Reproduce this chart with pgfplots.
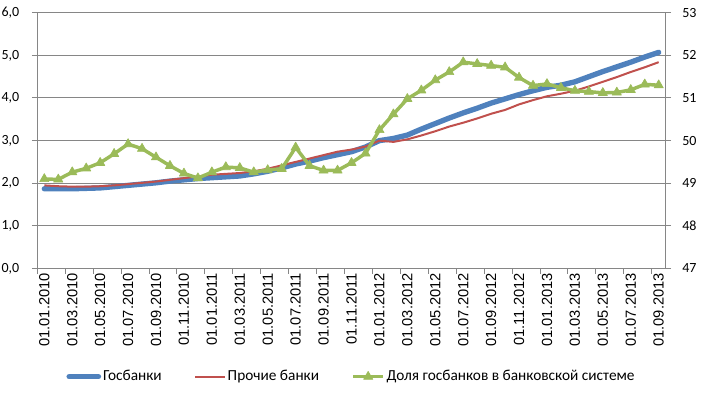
\documentclass[border=0pt]{standalone}
\usepackage{pgfplots}
\pgfplotsset{compat=1.18}
\usepackage{pgfplotstable}
\usepackage{fontspec}
\setmainfont{Carlito}
\newfontfamily\arialfont{Liberation Sans}
\definecolor{xlblue}{HTML}{4F81BD}
\definecolor{xlred}{HTML}{C0504D}
\definecolor{xlgreen}{HTML}{9BBB59}
\definecolor{xlgrid}{HTML}{868686}

\pgfplotstableread{
m gos proch
0 1.87 1.95
1 1.87 1.93
2 1.87 1.92
3 1.88 1.92
4 1.89 1.93
5 1.92 1.95
6 1.95 1.98
7 1.98 2.01
8 2.01 2.04
9 2.05 2.08
10 2.08 2.12
11 2.11 2.16
12 2.13 2.20
13 2.15 2.22
14 2.17 2.24
15 2.22 2.28
16 2.28 2.34
17 2.36 2.42
18 2.45 2.50
19 2.52 2.58
20 2.60 2.66
21 2.67 2.74
22 2.74 2.79
23 2.85 2.86
24 3.00 3.00
25 3.05 2.97
26 3.13 3.03
27 3.27 3.12
28 3.40 3.22
29 3.53 3.33
30 3.65 3.42
31 3.76 3.52
32 3.88 3.63
33 3.98 3.72
34 4.08 3.85
35 4.17 3.95
36 4.25 4.04
37 4.30 4.10
38 4.38 4.17
39 4.50 4.27
40 4.62 4.38
41 4.73 4.49
42 4.84 4.61
43 4.96 4.72
44 5.07 4.84
}\banks

\pgfplotstableread{
m dolya
0 49.10
1 49.09
2 49.26
3 49.35
4 49.48
5 49.69
6 49.92
7 49.81
8 49.61
9 49.41
10 49.23
11 49.12
12 49.26
13 49.38
14 49.36
15 49.26
16 49.31
17 49.34
18 49.84
19 49.41
20 49.30
21 49.30
22 49.48
23 49.70
24 50.25
25 50.62
26 50.98
27 51.18
28 51.42
29 51.61
30 51.84
31 51.80
32 51.76
33 51.72
34 51.48
35 51.29
36 51.33
37 51.24
38 51.17
39 51.15
40 51.12
41 51.13
42 51.19
43 51.32
44 51.30
}\share

\begin{document}
\begin{tikzpicture}
\useasboundingbox (-28pt,-94.9pt) rectangle (502.3pt,201.4pt);
\begin{axis}[
  width=471.3pt, height=191.85pt, scale only axis,
  at={(0,0)}, anchor=south west,
  xmin=-0.5, xmax=44.5, ymin=0, ymax=6,
  ytick={0,1,...,6},
  xtick={-0.5,1.5,...,43.5}, xticklabels={},
  extra x ticks={0,2,...,44},
  extra x tick labels={01.01.2010,01.03.2010,01.05.2010,01.07.2010,01.09.2010,01.11.2010,01.01.2011,01.03.2011,01.05.2011,01.07.2011,01.09.2011,01.11.2011,01.01.2012,01.03.2012,01.05.2012,01.07.2012,01.09.2012,01.11.2012,01.01.2013,01.03.2013,01.05.2013,01.07.2013,01.09.2013},
  extra x tick style={major tick length=0pt},
  xtick pos=left, ytick pos=left, tick align=outside, major tick length=4pt,
  ymajorgrids, grid style={xlgrid, line width=0.75pt},
  axis line style={xlgrid, line width=0.75pt},
  tick style={xlgrid, line width=0.75pt},
  yticklabel style={font=\fontsize{10.5}{12}\selectfont, xshift=-6pt, text=black},
  xticklabel style={rotate=90, anchor=east, font=\arialfont\fontsize{11}{13}\selectfont, text=black},
  /pgf/number format/.cd, use comma, fixed, fixed zerofill, precision=1, assume math mode=true
]
\addplot[xlblue, line width=4pt, line cap=round, line join=round] table[x=m, y=gos] {\banks};
\addplot[xlred, line width=1.5pt, line join=round] table[x=m, y=proch] {\banks};
\end{axis}
\begin{axis}[
  width=471.3pt, height=191.85pt, scale only axis,
  at={(0,0)}, anchor=south west,
  xmin=-0.5, xmax=44.5, ymin=47, ymax=53,
  ytick={47,48,...,53},
  hide x axis,
  ytick pos=right, tick align=outside, major tick length=4pt,
  axis line style={xlgrid, line width=0.75pt},
  tick style={xlgrid, line width=0.75pt},
  yticklabel style={font=\fontsize{10.5}{12}\selectfont, xshift=5pt, text=black},
  /pgf/number format/assume math mode=true,
  legend columns=3,
  legend style={at={(0.5,-0.423)}, anchor=center, draw=none, fill=none,
    font=\fontsize{11.5}{13}\selectfont,
    /tikz/every even column/.append style={column sep=23pt},
    nodes={inner sep=1.5pt}},
  legend image code/.code={\draw[mark repeat=2, mark phase=2, #1] plot coordinates {(0pt,0pt) (11pt,0pt) (22pt,0pt)};}
]
\addlegendimage{xlblue, line width=4pt, line cap=round}
\addlegendentry{Госбанки}
\addlegendimage{xlred, line width=1.5pt}
\addlegendentry{Прочие банки}
\addplot[xlgreen, line width=2.6pt, line join=round, mark=triangle*, mark size=4pt, mark options={solid, fill=xlgreen, draw=xlgreen, line width=0.5pt}] table[x=m, y=dolya] {\share};
\addlegendentry{Доля госбанков в банковской системе}
\end{axis}
\end{tikzpicture}
\end{document}
